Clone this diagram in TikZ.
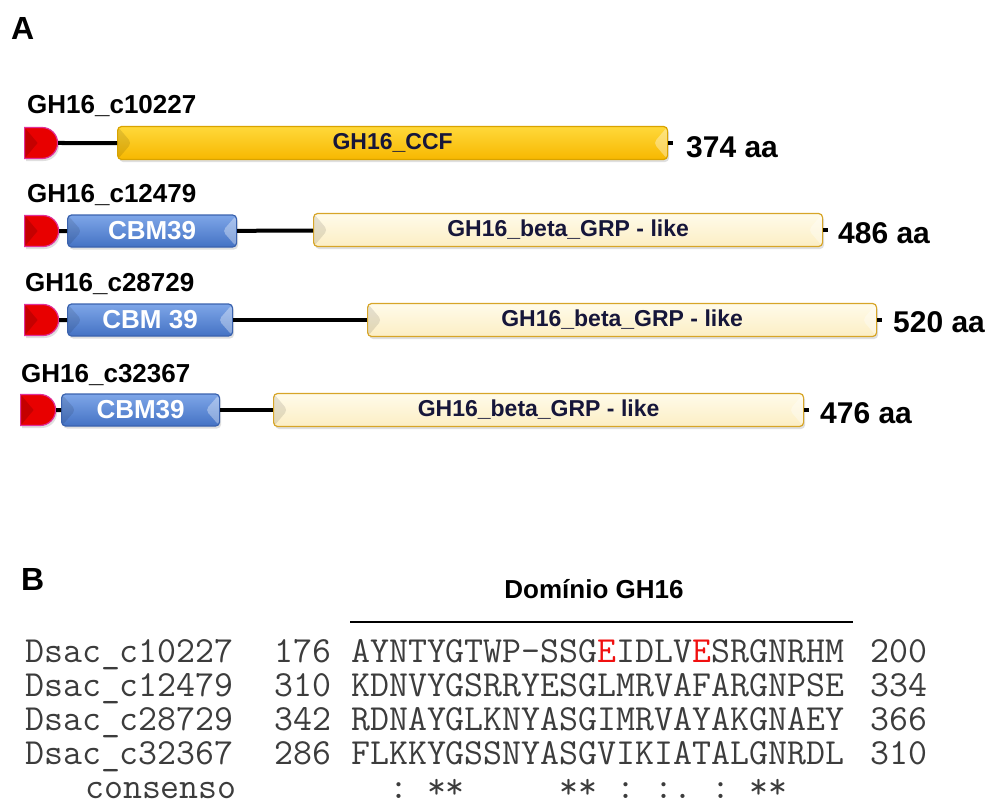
\documentclass[tikz,border=0pt]{standalone}
\usepackage{fontspec}
\setsansfont{Liberation Sans}
\usepackage{xcolor}
\usepackage{tikz}
\usetikzlibrary{shapes.misc, positioning, shadows}
\definecolor{C_SP}  {HTML}{E80000}
\definecolor{C_SPB} {HTML}{E0309A}
\definecolor{C_CCF} {HTML}{F7B800}
\definecolor{C_CCFT}{HTML}{FFD83A}
\definecolor{C_CCFB}{HTML}{D9A300}
\definecolor{C_GRP} {HTML}{FCEEC4}
\definecolor{C_GRPT}{HTML}{FFFBEA}
\definecolor{C_GRPB}{HTML}{D7A528}
\definecolor{C_CBM} {HTML}{4472C4}
\definecolor{C_CBMT}{HTML}{7EA6E8}
\definecolor{C_CBMB}{HTML}{3A62AE}
\definecolor{C_TXT} {HTML}{16163A}
\definecolor{C_ALN} {HTML}{3C3C3C}
\definecolor{C_CAT} {HTML}{F01010}
\tikzset{
  %% -- panel letters --
  panel/.style={font=\sffamily\bfseries\fontsize{32}{36}\selectfont,
    anchor=base west, inner sep=0pt},
  %% -- bevelled ends of a domain box --
  dom/bevel/.style={path picture={
      \fill[black, opacity=0.10]
        (path picture bounding box.north west)
        -- ([xshift=14pt]path picture bounding box.west)
        -- (path picture bounding box.south west) -- cycle;
      \fill[white, opacity=0.35]
        (path picture bounding box.north east)
        -- ([xshift=-14pt]path picture bounding box.east)
        -- (path picture bounding box.south east) -- cycle;
  }},
  %% -- generic domain box --
  dom/box/.style={
    rectangle, rounded corners=4pt, inner sep=0pt, anchor=west,
    minimum height=33pt, line width=1.2pt, dom/bevel,
    drop shadow={opacity=0.25, shadow xshift=1.5pt, shadow yshift=-2.5pt}
  },
  %% -- signal peptide --
  dom/sp/.style={
    rounded rectangle, rounded rectangle left arc=none,
    inner sep=0pt, anchor=west, minimum width=33pt, minimum height=31pt,
    fill=C_SP, draw=C_SPB, line width=1.2pt,
    path picture={
      \fill[black, opacity=0.15]
        (path picture bounding box.north west)
        -- ([xshift=13pt]path picture bounding box.west)
        -- (path picture bounding box.south west) -- cycle;
    },
    drop shadow={opacity=0.25, shadow xshift=1.5pt, shadow yshift=-2.5pt}
  },
  dom/ccf/.style={dom/box, top color=C_CCFT, bottom color=C_CCF,
    draw=C_CCFB, text=C_TXT,
    font=\sffamily\bfseries\fontsize{23}{26}\selectfont},
  dom/grp/.style={dom/box, top color=C_GRPT, bottom color=C_GRP,
    draw=C_GRPB, text=C_TXT,
    font=\sffamily\bfseries\fontsize{23}{26}\selectfont},
  dom/cbm/.style={dom/box, minimum height=32pt, top color=C_CBMT,
    bottom color=C_CBM, draw=C_CBMB, text=white,
    font=\sffamily\bfseries\fontsize{26}{30}\selectfont},
  %% -- protein backbone --
  prot/line/.style={line width=4pt, black},
  prot/name/.style={font=\sffamily\bfseries\fontsize{26}{30}\selectfont,
    anchor=base west, inner sep=0pt},
  prot/size/.style={font=\sffamily\bfseries\fontsize{30}{34}\selectfont,
    anchor=base west, inner sep=0pt},
  %% -- alignment --
  aln/txt/.style={font=\fontsize{36.8}{40}\selectfont\ttfamily,
    text=C_ALN, anchor=base west, inner sep=0pt},
  aln/head/.style={font=\sffamily\bfseries\fontsize{26}{30}\selectfont,
    anchor=base, inner sep=0pt},
  aln/bar/.style={line width=1.4pt, black},
}

\begin{document}
\begin{tikzpicture}[x=1pt, y=-1pt]
\useasboundingbox (0,0) rectangle (988,808);

%% Panel letters
\node[panel] (lblA) at (11,40)  {A};
\node[panel] (lblB) at (21,590) {B};

%% Protein names
\node[prot/name] (n1) at (27,113) {GH16\_c10227};
\node[prot/name] (n2) at (27,202) {GH16\_c12479};
\node[prot/name] (n3) at (25,291) {GH16\_c28729};
\node[prot/name] (n4) at (21,382) {GH16\_c32367};

%% GH16_c10227
\node[dom/sp]  (sp1)  at (24,143) {};
\node[dom/ccf, minimum width=550pt] (ccf1) at (117,143) {GH16\_CCF};
\draw[prot/line] (sp1) -- (ccf1);
\draw[prot/line] (ccf1.east) -- ++(5,0);
\node[prot/size] (len1) at (686,157) {374 aa};

%% GH16_c12479
\node[dom/sp, minimum width=34pt] (sp2) at (24,231) {};
\node[dom/cbm, minimum width=169pt] (cbm2) at (67,231) {CBM39};
\node[dom/grp, minimum width=509pt] (grp2) at (313,230)
  {GH16\_beta\_GRP - like};
\draw[prot/line] (sp2) -- (cbm2);
\draw[prot/line] (cbm2) -- (grp2);
\draw[prot/line] (grp2.east) -- ++(5,0);
\node[prot/size] (len2) at (838,243) {486 aa};

%% GH16_c28729
\node[dom/sp, minimum width=34pt] (sp3) at (24,320) {};
\node[dom/cbm, minimum width=165pt] (cbm3) at (67,320) {CBM 39};
\node[dom/grp, minimum width=509pt] (grp3) at (367,320)
  {GH16\_beta\_GRP - like};
\draw[prot/line] (sp3) -- (cbm3);
\draw[prot/line] (cbm3) -- (grp3);
\draw[prot/line] (grp3.east) -- ++(5,0);
\node[prot/size] (len3) at (893,332) {520 aa};

%% GH16_c32367
\node[dom/sp, minimum width=35pt] (sp4) at (20,410) {};
\node[dom/cbm, minimum width=158pt] (cbm4) at (61,410) {CBM39};
\node[dom/grp, minimum width=530pt] (grp4) at (273,410)
  {GH16\_beta\_GRP - like};
\draw[prot/line] (sp4) -- (cbm4);
\draw[prot/line] (cbm4) -- (grp4);
\draw[prot/line] (grp4.east) -- ++(5,0);
\node[prot/size] (len4) at (820,423) {476 aa};

%% Alignment header
\node[aln/head] (domh) at (594,598) {Domínio GH16};
\draw[aln/bar] (350,622) -- (853,622);

%% Alignment rows
\node[aln/txt] (nm1) at (25,662) {Dsac\_c10227};
\node[aln/txt] (st1) at (274,662) {176};
\node[aln/txt] (sq1) at (351,662)
  {AYNTYGTWP-SSG\textcolor{C_CAT}{E}IDLV\textcolor{C_CAT}{E}SRGNRHM};
\node[aln/txt] (en1) at (870,662) {200};

\node[aln/txt] (nm2) at (25,696) {Dsac\_c12479};
\node[aln/txt] (st2) at (274,696) {310};
\node[aln/txt] (sq2) at (351,696) {KDNVYGSRRYESGLMRVAFARGNPSE};
\node[aln/txt] (en2) at (870,696) {334};

\node[aln/txt] (nm3) at (25,730) {Dsac\_c28729};
\node[aln/txt] (st3) at (274,730) {342};
\node[aln/txt] (sq3) at (351,730) {RDNAYGLKNYASGIMRVAYAKGNAEY};
\node[aln/txt] (en3) at (870,730) {366};

\node[aln/txt] (nm4) at (25,764) {Dsac\_c32367};
\node[aln/txt] (st4) at (274,764) {286};
\node[aln/txt] (sq4) at (351,764) {FLKKYGSSNYASGVIKIATALGNRDL};
\node[aln/txt] (en4) at (870,764) {310};

%% Consensus
\node[aln/txt, anchor=base east] (cns) at (237,798) {consenso};
\node[aln/txt] (cnsq) at (351,798) {~~:~**~~~~~**~:~:.~:~**};
\end{tikzpicture}
\end{document}
